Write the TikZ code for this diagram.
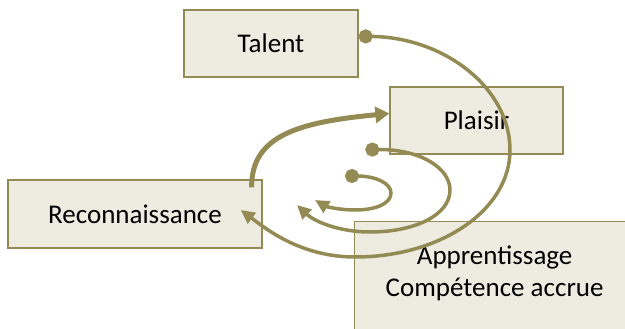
\documentclass[tikz,border=0pt]{standalone}
\usepackage{fontspec}
\setmainfont{Carlito}
\usetikzlibrary{arrows.meta,positioning,calc}

\definecolor{olive}{HTML}{948A54}
\definecolor{paper}{HTML}{EEECE1}

\begin{document}
\begin{tikzpicture}[x=1pt, y=-1pt,
    stage/.style={draw=olive, line width=1.3pt, fill=paper, align=center, font=\fontsize{27}{32}\selectfont, inner sep=0pt},
    loop/.style={draw=olive, line width=3.5pt, {Circle[length=14pt]}-{Triangle[length=14pt, width=13pt]}},
    push/.style={draw=olive, line width=5pt, -{Triangle[length=14pt, width=16pt]}}
]
\useasboundingbox (0,0) rectangle (625,329);

\node[stage, minimum width=174pt, minimum height=67pt] (talent) at (271,43.5) {Talent};
\node[stage, minimum width=173pt, minimum height=67pt] (plaisir) at (476.5,120.5) {Plaisir};
\node[stage, minimum width=254pt, minimum height=68pt] (reco) at (135,214) {Reconnaissance};
\node[stage, anchor=north west, minimum width=280pt, minimum height=140pt] (appr) at (354,221) {};
\node[font=\fontsize{27}{32}\selectfont, align=center] (apprtext) at ($(appr.north)+(0,52)$) {Apprentissage\\Compétence accrue};

% free ends of the spirals
\coordinate (talentout) at ([yshift=-27pt]talent.north east);
\coordinate (plaisirout) at ([xshift=-24pt,yshift=5pt]plaisir.south west);
\coordinate (recoout) at ([xshift=-11pt,yshift=-8pt]reco.north east);
\coordinate (recoin) at ([xshift=-22pt,yshift=4pt]reco.east);
\coordinate (plaisirin) at ([yshift=7pt]plaisir.west);
\coordinate (core) at (345,176);
\coordinate (midend) at (297,205);
\coordinate (coreend) at (315,200);

\draw[loop] (talentout) .. controls (444,37) and (510,88) .. (510,150)
    .. controls (510,210) and (441,257) .. (355,257)
    .. controls (300,257) and (265,228) .. (recoin);
\draw[loop] (plaisirout) .. controls (420,149) and (450,168) .. (450,190)
    .. controls (450,215) and (415,232) .. (370,232)
    .. controls (340,232) and (315,222) .. (midend);
\draw[loop] (core) .. controls (375,176) and (391,183) .. (391,193)
    .. controls (391,204) and (375,210) .. (355,210)
    .. controls (338,210) and (325,206) .. (coreend);
\draw[push] (recoout) .. controls (251,135) and (300,122) .. (plaisirin);
\end{tikzpicture}
\end{document}
